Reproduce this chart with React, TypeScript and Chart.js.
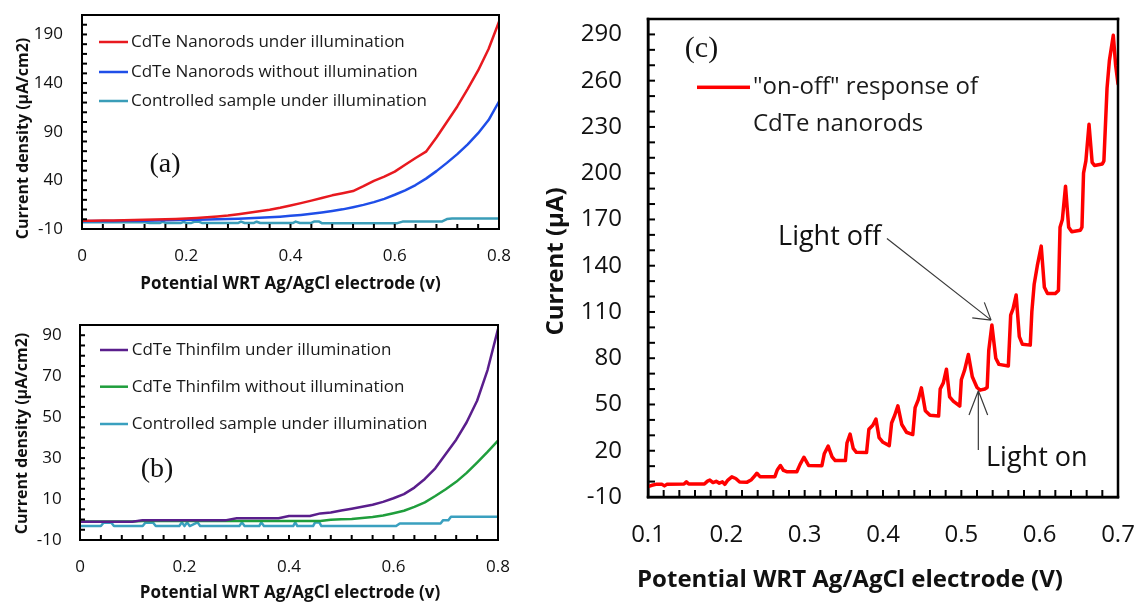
import { useEffect, useRef } from 'react';
import { Chart, registerables } from 'chart.js';

Chart.register(...registerables);

const SANS = '"Open Sans", sans-serif';
const SERIF = '"Liberation Serif", "Times New Roman", serif';

// ---------- Panel (a): CdTe nanorods ----------
const SWEEP_V = [
  0, 0.02, 0.04, 0.06, 0.08, 0.1, 0.12, 0.14, 0.16, 0.18, 0.2, 0.22, 0.24, 0.26, 0.28, 0.3, 0.32, 0.34, 0.36, 0.38, 0.4,
  0.42, 0.44, 0.46, 0.48, 0.5, 0.52, 0.54, 0.56, 0.58, 0.6, 0.62, 0.64, 0.66, 0.68, 0.7, 0.72, 0.74, 0.76, 0.78, 0.8,
];
const NANO_LIGHT = [
  -1.5, -1.4, -1.3, -1.2, -1.0, -0.8, -0.6, -0.3, 0.0, 0.4, 0.8, 1.3, 2.0, 2.8, 3.8, 5.2, 6.6, 8.2, 9.8, 11.8, 14.2,
  16.6, 19.2, 21.8, 24.6, 26.8, 29.0, 34.0, 39.5, 43.8, 49.0, 56.0, 63.0, 69.5, 84.0, 100.0, 116.0, 134.0, 153.0, 175.0, 203.0,
];
const NANO_DARK = [
  -2.0, -1.9, -1.8, -1.7, -1.6, -1.5, -1.4, -1.2, -1.0, -0.8, -0.6, -0.4, -0.2, 0.0, 0.3, 0.6, 1.0, 1.5, 2.0, 2.7, 3.5,
  4.5, 5.7, 7.0, 8.5, 10.2, 12.4, 14.8, 17.6, 21.0, 25.2, 29.8, 35.2, 41.8, 49.5, 58.0, 67.0, 77.0, 88.5, 102.0, 121.0,
];
const CTRL_A_V = [
  0, 0.12, 0.13, 0.15, 0.155, 0.16, 0.19, 0.195, 0.2, 0.21, 0.215, 0.225, 0.23, 0.3, 0.305, 0.312, 0.33, 0.335, 0.342,
  0.405, 0.41, 0.418, 0.44, 0.445, 0.455, 0.46, 0.605, 0.615, 0.69, 0.7, 0.71, 0.8,
];
const CTRL_A = [
  -3.0, -3.0, -3.8, -3.8, -2.5, -3.8, -3.8, -2.6, -3.8, -3.8, -2.6, -2.6, -3.8, -3.8, -2.4, -3.8, -3.8, -2.5, -3.8,
  -3.8, -2.4, -3.8, -3.8, -2.4, -2.4, -4.0, -4.0, -2.4, -2.4, 0.2, 0.8, 0.8,
];
const A_LABELS = [
  'CdTe Nanorods under illumination',
  'CdTe Nanorods without illumination',
  'Controlled sample under illumination',
];
const A_X_TICKS = [0, 0.2, 0.4, 0.6, 0.8];
const A_Y_TICKS = [-10, 40, 90, 140, 190];

// ---------- Panel (b): CdTe thin film ----------
const FILM_LIGHT = [
  -1.1, -1.1, -1.1, -1.1, -1.1, -1.1, -0.3, -0.3, -0.3, -0.3, -0.3, -0.3, -0.3, -0.3, -0.3, 0.6, 0.6, 0.6, 0.6, 0.6, 1.7,
  1.7, 1.7, 3.0, 3.4, 4.4, 5.3, 6.2, 7.2, 8.6, 10.4, 12.4, 15.6, 19.8, 25.0, 32.0, 39.0, 47.5, 58.0, 73.0, 93.0,
];
const FILM_DARK = [
  -1.0, -1.0, -1.0, -1.0, -1.0, -1.0, -0.7, -0.7, -0.7, -0.7, -0.7, -0.7, -0.7, -0.7, -0.7, -0.7, -0.7, -0.7, -0.7, -0.7, -0.7,
  -0.7, -0.7, -0.7, -0.1, 0.1, 0.2, 0.7, 1.2, 2.0, 3.1, 4.3, 6.2, 8.4, 11.5, 14.8, 18.4, 22.8, 27.8, 33.0, 38.5,
];
const CTRL_B_V = [
  0, 0.04, 0.045, 0.06, 0.065, 0.12, 0.125, 0.14, 0.145, 0.19, 0.195, 0.2, 0.205, 0.21, 0.225, 0.23, 0.305, 0.31, 0.315,
  0.343, 0.347, 0.352, 0.408, 0.412, 0.416, 0.446, 0.45, 0.458, 0.462, 0.605, 0.612, 0.69, 0.695, 0.705, 0.71, 0.8,
];
const CTRL_B = [
  -3.2, -3.2, -1.6, -1.6, -3.2, -3.2, -1.6, -1.6, -3.2, -3.2, -1.4, -3.2, -1.4, -3.2, -1.4, -3.2, -3.2, -1.4, -3.2,
  -3.2, -1.4, -3.2, -3.2, -1.4, -3.2, -3.2, -1.4, -1.4, -3.2, -3.2, -1.9, -1.9, -0.3, -0.3, 1.4, 1.4,
];
const B_LABELS = [
  'CdTe Thinfilm under illumination',
  'CdTe Thinfilm without illumination',
  'Controlled sample under illumination',
];
const B_X_TICKS = [0, 0.2, 0.4, 0.6, 0.8];
const B_Y_TICKS = [-10, 10, 30, 50, 70, 90];

// ---------- Panel (c): chopped-light response ----------
const CHOP_V = [
  0.1, 0.105, 0.11, 0.118, 0.121, 0.124, 0.146, 0.149, 0.152, 0.172, 0.176, 0.179, 0.183, 0.187, 0.191, 0.195, 0.198,
  0.202, 0.207, 0.212, 0.217, 0.226, 0.232, 0.236, 0.239, 0.243, 0.262, 0.265, 0.269, 0.273, 0.277, 0.29, 0.294, 0.299,
  0.305, 0.322, 0.325, 0.33, 0.335, 0.339, 0.352, 0.354, 0.358, 0.362, 0.366, 0.379, 0.382, 0.387, 0.391, 0.395, 0.4,
  0.408, 0.411, 0.415, 0.419, 0.424, 0.43, 0.438, 0.441, 0.445, 0.449, 0.454, 0.46, 0.471, 0.473, 0.477, 0.481, 0.485,
  0.49, 0.498, 0.5, 0.504, 0.509, 0.514, 0.52, 0.524, 0.53, 0.533, 0.535, 0.539, 0.544, 0.548, 0.56, 0.563, 0.566, 0.57,
  0.574, 0.578, 0.588, 0.59, 0.593, 0.597, 0.602, 0.606, 0.61, 0.62, 0.624, 0.626, 0.629, 0.633, 0.637, 0.641, 0.652,
  0.654, 0.656, 0.659, 0.663, 0.667, 0.67, 0.68, 0.682, 0.686, 0.689, 0.694, 0.697, 0.7,
];
const CHOP_I = [
  -3.3, -2.4, -1.8, -1.8, -2.8, -1.8, -1.6, -0.2, -1.6, -1.6, 0.3, 1.0, -0.6, 0.2, -1.0, -0.2, -1.8,
  1.0, 3.1, 2.0, -0.3, -0.5, 1.2, 3.6, 5.4, 3.2, 3.2, 7.5, 10.4, 7.2, 6.4, 6.4, 11.0, 15.8,
  10.5, 10.3, 18.0, 23.0, 16.0, 13.6, 13.6, 25.0, 30.8, 21.5, 19.0, 18.8, 34.0, 36.5, 40.5, 28.5, 25.5,
  23.3, 38.0, 43.0, 49.1, 37.0, 32.0, 30.5, 48.0, 53.0, 60.8, 46.0, 43.0, 42.5, 60.0, 64.0, 72.9, 55.0,
  52.0, 49.0, 66.0, 72.0, 82.4, 68.0, 61.0, 59.3, 60.0, 61.0, 85.0, 101.5, 80.0, 76.0, 75.0, 108.0, 112.0, 121.0,
  94.0, 89.0, 88.5, 110.0, 128.0, 140.0, 152.7, 126.0, 122.0, 122.0, 124.0, 165.0, 170.0, 191.6, 165.0, 162.0, 163.0,
  165.0, 200.0, 208.0, 231.7, 207.0, 205.0, 206.0, 208.0, 255.0, 273.0, 289.4, 270.0, 258.0,
];
const C_LABEL = '"on-off" response of\nCdTe nanorods';
const C_X_TICKS = [0.1, 0.2, 0.3, 0.4, 0.5, 0.6, 0.7];
const C_Y_TICKS = [-10, 20, 50, 80, 110, 140, 170, 200, 230, 260, 290];

type Note = { text: string; at: [number, number]; from: [number, number]; to: [number, number]; head: number; spread: number };
const C_NOTES: Note[] = [
  { text: 'Light off', at: [0.266, 158.5], from: [0.405, 157.7], to: [0.538, 104.7], head: 19, spread: 31 },
  { text: 'Light on', at: [0.5315, 15.3], from: [0.5217, 20.5], to: [0.5217, 58.9], head: 26, spread: 21 },
];

type TextSpec = { text: string; x: number; y: number; font: string };
type Decor = {
  xMinor: number;
  yMinor: number;
  tickLen: number;
  tickWidth: number;
  frameWidth: number;
  legendX1: number;
  legendX2: number;
  legendTextX: number;
  legendRows: number[];
  legendGap: number;
  legendLine: number;
  legendFont: string;
  xTitle: TextSpec;
  yTitle: TextSpec;
  tag: TextSpec;
  notes?: Note[];
  noteFont?: string;
};

const pts = (xs: number[], ys: number[]) => xs.map((x, i) => ({ x, y: ys[i] }));

function decorPlugin(d: Decor) {
  return {
    id: 'panelDecor',
    afterDraw(chart: any) {
      const ctx: CanvasRenderingContext2D = chart.ctx;
      const a = chart.chartArea;
      const xs = chart.scales.x;
      const ys = chart.scales.y;
      const L = a.left;
      const R = a.right;
      const T = a.top;
      const B = a.bottom;
      ctx.save();
      ctx.globalAlpha = 1;
      ctx.fillStyle = '#000000';

      // inward tick marks
      const tw = d.tickWidth;
      const nx = Math.round((xs.max - xs.min) / d.xMinor);
      for (let i = 0; i <= nx; i++) {
        const px = xs.getPixelForValue(xs.min + i * d.xMinor);
        ctx.fillRect(px - tw / 2, B - d.tickLen, tw, d.tickLen);
      }
      const ny = Math.round((ys.max - ys.min) / d.yMinor);
      for (let i = 0; i <= ny; i++) {
        const py = ys.getPixelForValue(ys.min + i * d.yMinor);
        ctx.fillRect(L, py - tw / 2, d.tickLen, tw);
      }

      // plot frame
      const fw = d.frameWidth;
      ctx.fillRect(L - fw / 2, T - fw / 2, R - L + fw, fw);
      ctx.fillRect(L - fw / 2, B - fw / 2, R - L + fw, fw);
      ctx.fillRect(L - fw / 2, T - fw / 2, fw, B - T + fw);
      ctx.fillRect(R - fw / 2, T - fw / 2, fw, B - T + fw);

      // legend
      ctx.textAlign = 'left';
      ctx.textBaseline = 'middle';
      chart.data.datasets.forEach((ds: any, i: number) => {
        const y = d.legendRows[i];
        ctx.fillStyle = ds.borderColor;
        ctx.fillRect(d.legendX1, y - d.legendLine / 2, d.legendX2 - d.legendX1, d.legendLine);
        ctx.fillStyle = '#1a1a1a';
        ctx.font = d.legendFont;
        String(ds.label)
          .split('\n')
          .forEach((line, k) => ctx.fillText(line, d.legendTextX, y + k * d.legendGap));
      });

      // axis titles and panel tag
      ctx.fillStyle = '#111';
      ctx.textAlign = 'center';
      ctx.font = d.xTitle.font;
      ctx.fillText(d.xTitle.text, d.xTitle.x, d.xTitle.y);
      ctx.save();
      ctx.translate(d.yTitle.x, d.yTitle.y);
      ctx.rotate(-Math.PI / 2);
      ctx.font = d.yTitle.font;
      ctx.fillText(d.yTitle.text, 0, 0);
      ctx.restore();
      ctx.font = d.tag.font;
      ctx.fillText(d.tag.text, d.tag.x, d.tag.y);

      // arrow annotations
      (d.notes || []).forEach((n) => {
        const fx = xs.getPixelForValue(n.from[0]);
        const fy = ys.getPixelForValue(n.from[1]);
        const tx = xs.getPixelForValue(n.to[0]);
        const ty = ys.getPixelForValue(n.to[1]);
        ctx.strokeStyle = '#3a3a3a';
        ctx.lineWidth = 1.2;
        ctx.setLineDash([]);
        ctx.beginPath();
        ctx.moveTo(fx, fy);
        ctx.lineTo(tx, ty);
        const back = Math.atan2(fy - ty, fx - tx);
        for (const s of [-1, 1]) {
          const ang = back + (s * n.spread * Math.PI) / 180;
          ctx.moveTo(tx, ty);
          ctx.lineTo(tx + n.head * Math.cos(ang), ty + n.head * Math.sin(ang));
        }
        ctx.stroke();
        ctx.fillStyle = '#111';
        ctx.font = d.noteFont || d.legendFont;
        ctx.textAlign = 'left';
        ctx.fillText(n.text, xs.getPixelForValue(n.at[0]), ys.getPixelForValue(n.at[1]));
      });

      ctx.restore();
    },
  };
}

type AxisSpec = {
  min: number;
  max: number;
  ticks: number[];
  size: number;
  pad: number;
  fontSize: number;
  line: number;
};

function axis(s: AxisSpec, vertical: boolean) {
  return {
    type: 'linear',
    min: s.min,
    max: s.max,
    afterBuildTicks: (scale: any) => {
      scale.ticks = s.ticks.map((value) => ({ value }));
    },
    afterFit: (scale: any) => {
      if (vertical) scale.width = s.size;
      else scale.height = s.size;
      // label overhang must not push the plot area around
      scale.paddingTop = 0;
      scale.paddingBottom = 0;
      scale.paddingLeft = 0;
      scale.paddingRight = 0;
    },
    grid: { display: false, drawTicks: false },
    border: { display: true, color: '#000000', width: s.line },
    ticks: {
      padding: s.pad,
      autoSkip: false,
      maxRotation: 0,
      color: '#111',
      font: { family: SANS, size: s.fontSize },
      callback: (v: number) => String(v),
    },
  };
}

type PanelSpec = {
  left: number;
  top: number;
  width: number;
  height: number;
  build: () => any;
};

function buildConfig(
  datasets: any[],
  xAxis: AxisSpec,
  yAxis: AxisSpec,
  padding: { top: number; right: number },
  decor: Decor,
) {
  return {
    type: 'line',
    data: { datasets },
    options: {
      responsive: false,
      animation: false,
      devicePixelRatio: 1,
      layout: { autoPadding: false, padding: { left: 0, bottom: 0, top: padding.top, right: padding.right } },
      plugins: { legend: { display: false }, tooltip: { enabled: false }, title: { display: false } },
      elements: { point: { radius: 0 }, line: { tension: 0, borderJoinStyle: 'round', borderCapStyle: 'round' } },
      scales: { x: axis(xAxis, false), y: axis(yAxis, true) },
    },
    plugins: [decorPlugin(decor)],
  };
}

const line = (label: string, color: string, width: number, data: { x: number; y: number }[]) => ({
  label,
  data,
  borderColor: color,
  backgroundColor: color,
  borderWidth: width,
  fill: false,
  pointRadius: 0,
});

const PANELS: PanelSpec[] = [
  {
    left: 0,
    top: 0,
    width: 530,
    height: 300,
    build: () =>
      buildConfig(
        [
          line(A_LABELS[0], '#e8191f', 2.5, pts(SWEEP_V, NANO_LIGHT)),
          line(A_LABELS[1], '#1f4ee8', 2.5, pts(SWEEP_V, NANO_DARK)),
          line(A_LABELS[2], '#3a9db8', 2.5, pts(CTRL_A_V, CTRL_A)),
        ],
        { min: 0, max: 0.8, ticks: A_X_TICKS, size: 71, pad: 17, fontSize: 17, line: 2 },
        { min: -10, max: 210, ticks: A_Y_TICKS, size: 82, pad: 19, fontSize: 17, line: 2 },
        { top: 15, right: 31 },
        {
          xMinor: 0.04,
          yMinor: 10,
          tickLen: 5,
          tickWidth: 2,
          frameWidth: 2,
          legendX1: 99,
          legendX2: 128,
          legendTextX: 131,
          legendRows: [42, 72, 101],
          legendGap: 0,
          legendLine: 2.5,
          legendFont: `17px ${SANS}`,
          xTitle: { text: 'Potential WRT Ag/AgCl electrode (v)', x: 290.5, y: 284, font: `bold 17px ${SANS}` },
          yTitle: { text: 'Current density (µA/cm2)', x: 23, y: 138.5, font: `bold 16px ${SANS}` },
          tag: { text: '(a)', x: 165, y: 164.5, font: `28px ${SERIF}` },
        },
      ),
  },
  {
    left: 0,
    top: 300,
    width: 530,
    height: 303,
    build: () =>
      buildConfig(
        [
          line(B_LABELS[0], '#5a1e8c', 2.5, pts(SWEEP_V, FILM_LIGHT)),
          line(B_LABELS[1], '#1f9e3c', 2.5, pts(SWEEP_V, FILM_DARK)),
          line(B_LABELS[2], '#3aa0bf', 2.5, pts(CTRL_B_V, CTRL_B)),
        ],
        { min: 0, max: 0.8, ticks: B_X_TICKS, size: 63, pad: 16.5, fontSize: 17, line: 2 },
        { min: -10, max: 95, ticks: B_Y_TICKS, size: 80, pad: 18.3, fontSize: 17, line: 2 },
        { top: 25, right: 32 },
        {
          xMinor: 0.04,
          yMinor: 5,
          tickLen: 5,
          tickWidth: 2,
          frameWidth: 2,
          legendX1: 100,
          legendX2: 128,
          legendTextX: 131.7,
          legendRows: [50, 86.7, 124],
          legendGap: 0,
          legendLine: 2.5,
          legendFont: `17px ${SANS}`,
          xTitle: { text: 'Potential WRT Ag/AgCl electrode (v)', x: 290, y: 293.3, font: `bold 17px ${SANS}` },
          yTitle: { text: 'Current density (µA/cm2)', x: 22, y: 133.5, font: `bold 16px ${SANS}` },
          tag: { text: '(b)', x: 157, y: 169.5, font: `28px ${SERIF}` },
        },
      ),
  },
  {
    left: 530,
    top: 0,
    width: 608,
    height: 603,
    build: () =>
      buildConfig(
        [line(C_LABEL, '#ff0000', 3.5, pts(CHOP_V, CHOP_I))],
        { min: 0.1, max: 0.7, ticks: C_X_TICKS, size: 106, pad: 23.6, fontSize: 24, line: 2.5 },
        { min: -10, max: 300, ticks: C_Y_TICKS, size: 118, pad: 26, fontSize: 24, line: 2.5 },
        { top: 19, right: 20 },
        {
          xMinor: 0.02,
          yMinor: 10,
          tickLen: 7,
          tickWidth: 2,
          frameWidth: 2.5,
          legendX1: 167,
          legendX2: 220,
          legendTextX: 223,
          legendRows: [87.3],
          legendGap: 37,
          legendLine: 3.5,
          legendFont: `24px ${SANS}`,
          xTitle: { text: 'Potential WRT Ag/AgCl electrode (V)', x: 320, y: 580, font: `bold 24px ${SANS}` },
          yTitle: { text: 'Current (µA)', x: 26, y: 261.5, font: `bold 24px ${SANS}` },
          tag: { text: '(c)', x: 171.5, y: 49.5, font: `30px ${SERIF}` },
          notes: C_NOTES,
          noteFont: `27px ${SANS}`,
        },
      ),
  },
];

function PanelCanvas({ spec }: { spec: PanelSpec }) {
  const ref = useRef<HTMLCanvasElement>(null);
  useEffect(() => {
    if (!ref.current) return;
    const chart = new Chart(ref.current, spec.build());
    return () => chart.destroy();
  }, [spec]);
  return (
    <canvas
      ref={ref}
      width={spec.width}
      height={spec.height}
      style={{ position: 'absolute', left: spec.left, top: spec.top, width: spec.width, height: spec.height }}
    />
  );
}

export default function App() {
  Chart.defaults.font.family = SANS;
  return (
    <div
      style={{
        position: 'fixed',
        left: 0,
        top: 0,
        width: 1138,
        height: 603,
        background: '#ffffff',
        overflow: 'hidden',
      }}
    >
      {PANELS.map((p, i) => (
        <PanelCanvas key={i} spec={p} />
      ))}
    </div>
  );
}
